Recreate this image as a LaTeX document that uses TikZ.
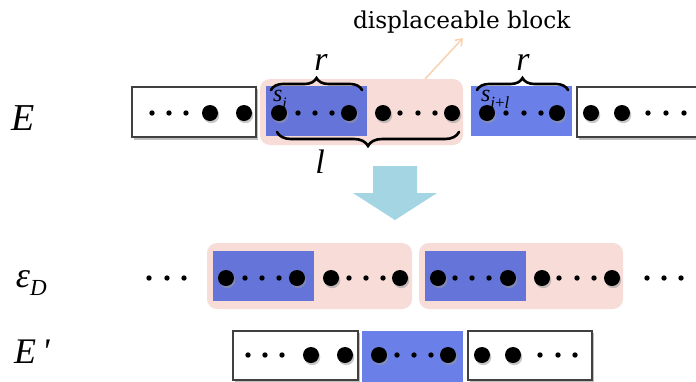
\documentclass[tikz,border=0pt]{standalone}
\usepackage{fontspec}
\setmainfont{Liberation Serif}
\newfontfamily\dvs{DejaVu Serif}
\usetikzlibrary{decorations.pathreplacing,arrows.meta}
\definecolor{pinkbg}{HTML}{F7DCD8}
\definecolor{blueA}{HTML}{6574D8}
\definecolor{blueB}{HTML}{6A80E8}
\definecolor{arrowblue}{HTML}{A3D5E3}
\definecolor{peach}{HTML}{F9D4B4}
\newcommand\bdot[2]{\fill[black!40,opacity=.55] (#1+1.3,#2+2.2) circle (8pt); \fill[black] (#1,#2) circle (8pt);}
\newcommand\sdot[2]{\fill[black] (#1,#2) circle (2.7pt);}
\begin{document}
\begin{tikzpicture}[x=1pt,y=-1pt,
  pinkbox/.style={fill=pinkbg, rounded corners=10pt},
  wbox/.style={draw=black!75, line width=1.1pt, fill=white},
  lab/.style={inner sep=0pt, outer sep=0pt},
  bracestyle/.style={decorate, line width=2.6pt, line cap=round}]
\useasboundingbox (0,0) rectangle (696,381);
\clip (0,0) rectangle (696,381);
\fill[white] (0,0) rectangle (696,381);

% ---- row E ----
\fill[black!25] (133.5,89) rectangle (258,139.5);
\draw[wbox] (132,87) rectangle (256,137);
\fill[pinkbg, rounded corners=10pt] (260,79) rectangle (463,145);
\fill[blueA] (266,86) rectangle (367,136);
\fill[blueB] (471,86) rectangle (572,136);
\fill[black!25] (578.5,89) rectangle (712,139.5);
\draw[wbox] (577,87) rectangle (710,137);

\foreach \x in {152,169,186} {\sdot{\x}{113}}
\foreach \x in {210,244} {\bdot{\x}{113}}
\foreach \x in {279,349,383,452,487,557,591,622} {\bdot{\x}{113}}
\foreach \x in {298,315,332,400,418,435,506,524,541,648,666,684} {\sdot{\x}{113}}

% braces
\draw[bracestyle, decoration={brace, amplitude=12pt}] (271,90) -- (362,90);
\draw[bracestyle, decoration={brace, amplitude=12pt}] (477,90) -- (568,90);
\draw[bracestyle, decoration={brace, amplitude=14pt}] (459,132) -- (277,132);

% labels
\node[lab, anchor=base west] (E) at (12,130) {\fontsize{38}{38}\selectfont\textit{E}};
\node[lab, anchor=base] (r1) at (321,70) {\fontsize{34}{34}\selectfont\textit{r}};
\node[lab, anchor=base] (r2) at (523,70) {\fontsize{34}{34}\selectfont\textit{r}};
\node[lab, anchor=base] (l) at (320,173) {\fontsize{34}{34}\selectfont\textit{l}};
\node[lab, anchor=base west] (si) at (273,101) {\fontsize{24}{24}\selectfont\textit{s}\raisebox{-7pt}{\fontsize{16}{16}\selectfont\textit{i}}};
\node[lab, anchor=base west] (sil) at (481,101) {\fontsize{24}{24}\selectfont\textit{s}\raisebox{-7pt}{\fontsize{17}{17}\selectfont\textit{i}+\textit{l}}};
\node[lab, anchor=base west] (disp) at (353,28) {\dvs\fontsize{23.2}{24}\selectfont displaceable block};
\coordinate (pA) at (425,79);
\coordinate (pB) at (463,38);
\draw[peach, line width=1.6pt, -{Straight Barb[length=6pt,width=9pt]}] (pA) -- (pB);

% down arrow
\fill[arrowblue] (373,166) -- (417,166) -- (417,193) -- (437,193) -- (395,220) -- (353,193) -- (373,193) -- cycle;

% ---- row eps_D ----
\fill[pinkbg, rounded corners=10pt] (207,243) rectangle (412,309);
\fill[blueA] (213,251) rectangle (314,301);
\fill[pinkbg, rounded corners=10pt] (419,243) rectangle (623,309);
\fill[blueA] (425,251) rectangle (526,301);
\foreach \x in {149,167,184,245,262,279,349,366,383,455,472,489,559,577,594,647,664,681} {\sdot{\x}{278}}
\foreach \x in {226,297,331,400,438,508,542,612} {\bdot{\x}{278}}
\node[lab, anchor=base west] (eps) at (16,287) {\fontsize{36}{36}\selectfont\textit{ε}\raisebox{-8pt}{\fontsize{23}{23}\selectfont\textit{D}}};

% ---- row E' ----
\fill[black!25] (234.5,333) rectangle (360,383);
\draw[wbox] (233,331) rectangle (358,380);
\fill[blueB] (362,331) rectangle (463,385);
\fill[black!25] (469.5,333) rectangle (594,383);
\draw[wbox] (468,331) rectangle (592,380);
\foreach \x in {248,265,282,397,414,431,540,558,575} {\sdot{\x}{355}}
\foreach \x in {311,345,379,448,482,513} {\bdot{\x}{355}}
\node[lab, anchor=base west] (Ep) at (14,363) {\fontsize{36}{36}\selectfont\textit{E\,\textquotesingle}};
\end{tikzpicture}
\end{document}
